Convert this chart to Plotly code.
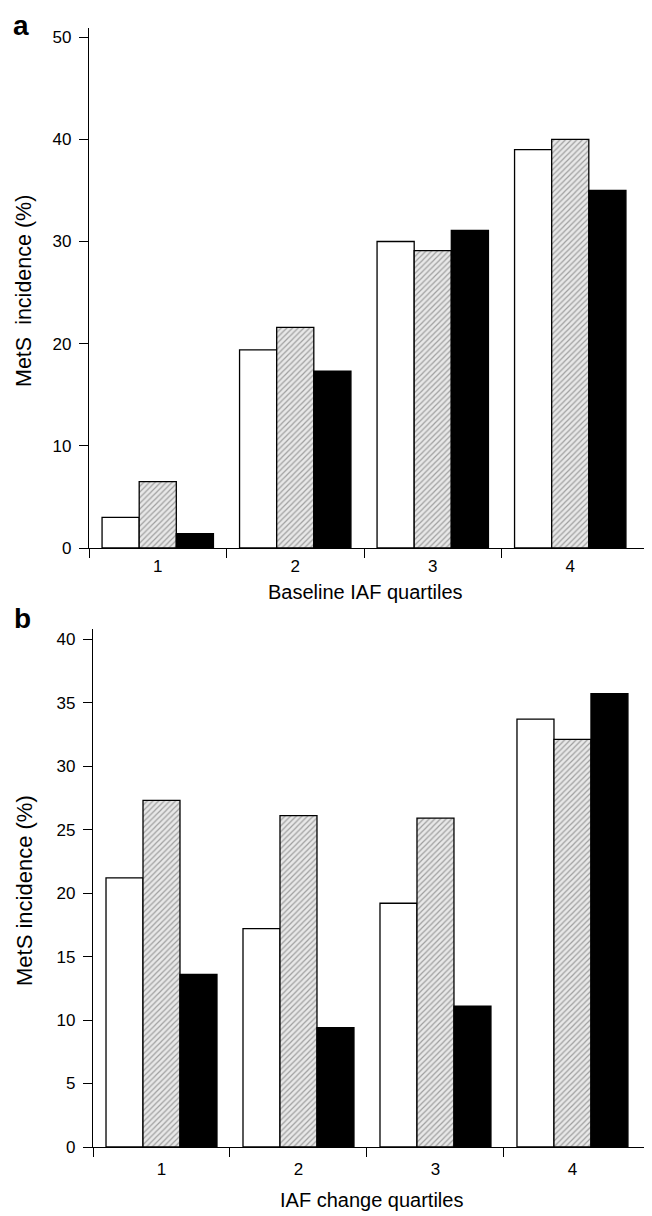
import plotly.graph_objects as go

quartiles = ["1", "2", "3", "4"]
# Panel a: baseline IAF quartiles
a_white = [3.0, 19.4, 30.0, 39.0]
a_hatch = [6.5, 21.6, 29.1, 40.0]
a_black = [1.4, 17.3, 31.1, 35.0]
# Panel b: IAF change quartiles
b_white = [21.2, 17.2, 19.2, 33.7]
b_hatch = [27.3, 26.1, 25.9, 32.1]
b_black = [13.6, 9.4, 11.1, 35.7]

a_yticks = [0, 10, 20, 30, 40, 50]
b_yticks = [0, 5, 10, 15, 20, 25, 30, 35, 40]

# page body has an 8px margin; figure is sized so it fits the 652x1216 window
OFF = 8
W, H = 652 - OFF, 1216 - OFF
FONT = "Liberation Sans, Arial, sans-serif"
pos = [1, 2, 3, 4]
bounds = [0.5, 1.5, 2.5, 3.5]


def px(x):
    return (x - OFF) / W


def py(y):
    return 1 - (y - OFF) / H


fig = go.Figure()


def add_group(xa, ya, w, h, k):
    line = dict(color="black", width=1.3)
    fig.add_trace(go.Bar(x=pos, y=w, xaxis=xa, yaxis=ya,
                         marker=dict(color="white", line=line), showlegend=False))
    fig.add_trace(go.Bar(x=pos, y=h, xaxis=xa, yaxis=ya,
                         marker=dict(color="#e4e4e4", line=line,
                                     pattern=dict(shape="/", size=4, solidity=0.3,
                                                  fgcolor="#555555", bgcolor="#e8e8e8")),
                         showlegend=False))
    fig.add_trace(go.Bar(x=pos, y=k, xaxis=xa, yaxis=ya,
                         marker=dict(color="black", line=line), showlegend=False))


add_group("x", "y", a_white, a_hatch, a_black)
add_group("x2", "y2", b_white, b_hatch, b_black)


def xaxis_cfg(domain, rng, anchor, lablen):
    return dict(domain=domain, range=rng, showline=True, linecolor="black", linewidth=1.3,
                tickvals=pos, ticktext=quartiles, ticks="outside", ticklen=lablen,
                tickcolor="rgba(0,0,0,0)", anchor=anchor,
                minor=dict(tickvals=bounds, ticks="outside", ticklen=9,
                           tickcolor="black", tickwidth=1.3),
                showgrid=False, zeroline=False, fixedrange=True,
                tickfont=dict(family=FONT, size=17, color="black"))


def yaxis_cfg(domain, rng, ticks, anchor):
    return dict(domain=domain, range=rng, showline=True, linecolor="black", linewidth=1.3,
                tickvals=ticks, ticks="outside", ticklen=9, tickwidth=1.3,
                tickcolor="black", showgrid=False, zeroline=False, anchor=anchor,
                ticklabelstandoff=4,
                tickfont=dict(family=FONT, size=17, color="black"))


fig.update_layout(
    width=W, height=H,
    margin=dict(l=0, r=0, t=0, b=0, autoexpand=False),
    paper_bgcolor="white", plot_bgcolor="white",
    barmode="group", bargap=0.19, bargroupgap=0,
    xaxis=xaxis_cfg([px(89), px(650)], [0.5, 4.58], "y", 2),
    yaxis=yaxis_cfg([py(548), py(28)], [0, 50.9], a_yticks, "x"),
    xaxis2=xaxis_cfg([px(93), px(650)], [0.5, 4.566], "y2", 6),
    yaxis2=yaxis_cfg([py(1147), py(629)], [0, 40.8], b_yticks, "x2"),
    font=dict(family=FONT, color="black"),
)

ann = [
    dict(text="<b>a</b>", x=px(21), y=1.0, yanchor="top", font=dict(size=28)),
    dict(text="<b>b</b>", x=px(22), y=py(618), font=dict(size=28)),
    dict(text="MetS  incidence (%)", x=px(24), y=py(291), textangle=-90, font=dict(size=21.5)),
    dict(text="MetS incidence (%)", x=px(24), y=py(891), textangle=-90, font=dict(size=22)),
    dict(text="Baseline IAF quartiles", x=px(365), y=py(592), font=dict(size=20)),
    dict(text="IAF change quartiles", x=px(371), y=py(1200), font=dict(size=20)),
]
for a in ann:
    a.setdefault("yanchor", "middle")
    a.update(xref="paper", yref="paper", showarrow=False, xanchor="center")
    a["font"].update(family=FONT, color="black")
fig.update_layout(annotations=ann)

fig.write_html("out.html")
